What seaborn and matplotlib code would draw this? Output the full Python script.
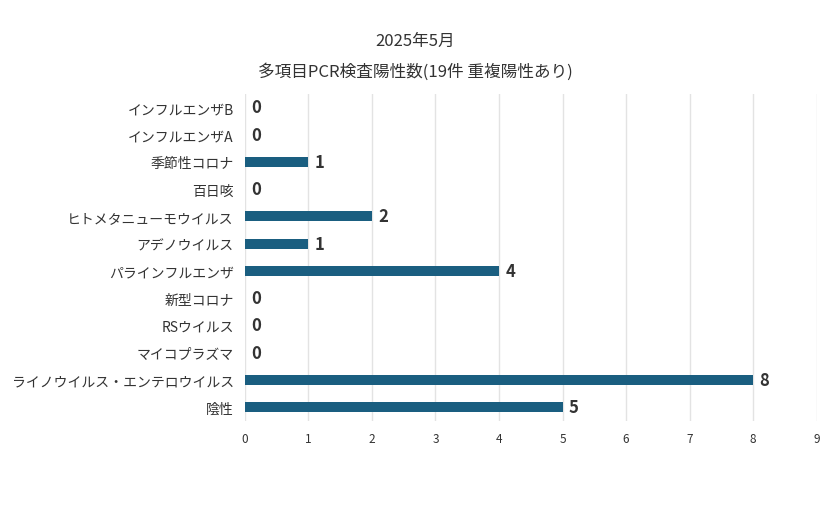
import pandas as pd
import matplotlib
matplotlib.use("Agg")
import matplotlib.pyplot as plt
import seaborn as sns

plt.rcParams['font.family'] = 'Noto Sans CJK JP'

categories = ['インフルエンザB', 'インフルエンザA', '季節性コロナ', '百日咳', 'ヒトメタニューモウイルス',
              'アデノウイルス', 'パラインフルエンザ', '新型コロナ', 'RSウイルス', 'マイコプラズマ',
              'ライノウイルス・エンテロウイルス', '陰性']
counts = [0, 0, 1, 0, 2, 1, 4, 0, 0, 0, 8, 5]
xticks = list(range(10))

df = pd.DataFrame({'cat': categories, 'n': counts})

fig = plt.figure(figsize=(8.3, 5.1), dpi=100)
ax = fig.add_axes([0.295, 0.173, 0.689, 0.641])
sns.barplot(data=df, x='n', y='cat', color='#1a5e80', width=0.37, ax=ax, saturation=1)

for i, v in enumerate(counts):
    ax.text(v + 0.1, i, str(v), va='center', ha='left', fontsize=12, fontweight='bold', color='#333333')

ax.set_xlim(0, 9)
ax.set_xticks(xticks)
ax.set_xlabel('')
ax.set_ylabel('')
ax.grid(axis='x', color='#e3e3e3', linewidth=1)
ax.set_axisbelow(True)
for s in ax.spines.values():
    s.set_visible(False)
ax.tick_params(axis='both', length=0, labelcolor='#333333')
ax.tick_params(axis='x', labelsize=8.5, pad=8)
ax.tick_params(axis='y', labelsize=10, pad=8)

fig.text(0.5, 0.91, '2025年5月', ha='center', fontsize=12, color='#333333')
fig.text(0.5, 0.85, '多項目PCR検査陽性数(19件 重複陽性あり)', ha='center', fontsize=12, color='#333333')

fig.savefig('out.png', dpi=100)
